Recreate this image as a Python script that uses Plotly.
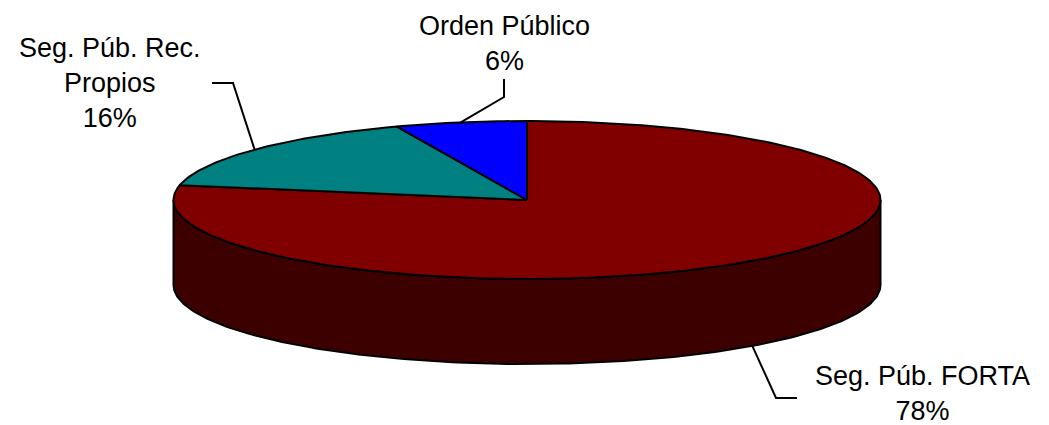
import numpy as np
import plotly.graph_objects as go

# ---- data ----
categories = ["Seg. Púb. FORTA", "Seg. Púb. Rec. Propios", "Orden Público"]
label_lines = [["Seg. Púb. FORTA"], ["Seg. Púb. Rec.", "Propios"], ["Orden Público"]]
values = [78, 16, 6]

# ---- style ----
top_colors = ["#800000", "#008080", "#0000FF"]
side_colors = ["#3d0000", "#004040", "#000080"]
W, H = 1049, 425
CX, CY, RX, RY, DEPTH = 527, 200, 353.5, 79, 85
FONT = dict(family="Arial, 'Liberation Sans', sans-serif", size=27, color="black")
# label centre and leader elbow/end (layout positions)
label_pos = [(922, 393), (110, 83), (504, 43)]
leader_path = [[(776, 398), (797, 398)], [(233, 83), (212, 83)], [(504, 97), (504, 79)]]

total = float(sum(values))
fracs = np.array(values) / total
bounds = np.concatenate([[0], np.cumsum(fracs)]) * 2 * np.pi  # clockwise from 12 o'clock


def pt(theta, drop=0.0):
    return CX + RX * np.sin(theta), CY - RY * np.cos(theta) + drop


fig = go.Figure()

# side walls (front half only: angles pi/2 .. 3pi/2)
for i in range(len(values)):
    a0, a1 = bounds[i], bounds[i + 1]
    s, e = max(a0, np.pi / 2), min(a1, 3 * np.pi / 2)
    if e <= s:
        continue
    t = np.linspace(s, e, 200)
    xt, yt = pt(t)
    xb, yb = pt(t[::-1], DEPTH)
    xs = np.concatenate([xt, xb, xt[:1]])
    ys = np.concatenate([yt, yb, yt[:1]])
    fig.add_trace(go.Scatter(x=xs, y=ys, mode="lines", fill="toself",
                             fillcolor=side_colors[i],
                             line=dict(color="black", width=2),
                             hoverinfo="skip", showlegend=False))

# top faces
for i in range(len(values)):
    a0, a1 = bounds[i], bounds[i + 1]
    t = np.linspace(a0, a1, max(20, int(400 * fracs[i])))
    xa, ya = pt(t)
    xs = np.concatenate([[CX], xa, [CX]])
    ys = np.concatenate([[CY], ya, [CY]])
    fig.add_trace(go.Scatter(x=xs, y=ys, mode="lines", fill="toself",
                             fillcolor=top_colors[i],
                             line=dict(color="black", width=2),
                             name=categories[i], hoverinfo="skip", showlegend=False))

# leader lines and labels
for i in range(len(values)):
    mid = (bounds[i] + bounds[i + 1]) / 2
    front = np.pi / 2 < mid < 3 * np.pi / 2
    sx, sy = pt(mid, DEPTH if front else 0)
    lx = [sx] + [p[0] for p in leader_path[i]]
    ly = [sy] + [p[1] for p in leader_path[i]]
    fig.add_trace(go.Scatter(x=lx, y=ly, mode="lines",
                             line=dict(color="black", width=2),
                             hoverinfo="skip", showlegend=False))
    pct = f"{round(values[i] / total * 100)}%"
    text = "<br>".join(label_lines[i] + [pct])
    fig.add_annotation(x=label_pos[i][0], y=label_pos[i][1], xref="x", yref="y",
                       text=text, showarrow=False, font=FONT,
                       xanchor="center", yanchor="middle", align="center")

fig.update_layout(
    width=W, height=H, margin=dict(l=0, r=0, t=0, b=0),
    paper_bgcolor="white", plot_bgcolor="white",
    xaxis=dict(range=[0, W], visible=False, fixedrange=True),
    yaxis=dict(range=[H, 0], visible=False, fixedrange=True),
)

fig.write_html("out.html")
